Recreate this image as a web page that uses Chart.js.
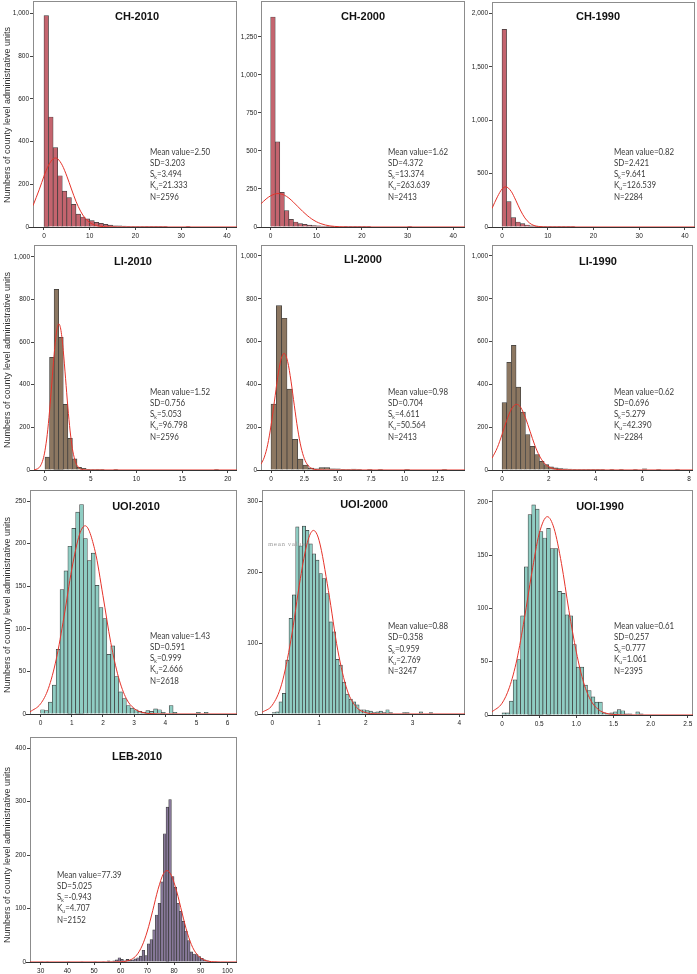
<!DOCTYPE html>
<html>
<head>
<meta charset="utf-8">
<script src="https://cdn.jsdelivr.net/npm/chart.js@4.4.1/dist/chart.umd.min.js"></script>
<style>
  html, body { margin: 0; padding: 0; background: #fff; }
  body { position: relative; width: 697px; height: 974px; overflow: hidden; font-family: "Liberation Sans", Arial, sans-serif; }
  canvas { position: absolute; }
  .title { position: absolute; font-weight: bold; font-size: 11px; color: #111; transform: translate(-50%, -50%); white-space: nowrap; }
  .stats { position: absolute; font-family: Lato, "Open Sans", sans-serif; font-size: 9.2px; line-height: 11.3px; color: #3a3a3a; white-space: nowrap; transform: scaleX(0.86); transform-origin: 0 0; }
  .stats sub { font-size: 6px; vertical-align: -2px; line-height: 0; }
  .ytitle { position: absolute; font-size: 9px; color: #333; white-space: nowrap; transform: translate(-50%, -50%) rotate(-90deg); }
  .ghost { position: absolute; font-family: "DejaVu Serif", serif; font-size: 5.5px; color: #999; letter-spacing: 0.6px; white-space: nowrap; }
</style>
</head>
<body>
<script>
// ---- data ----
const chXTicks = [0, 10, 20, 30, 40];
const chXLabels = ['0', '10', '20', '30', '40'];

// CH-2010 (bins of width 1 from 0)
const ch2010BinWidth = 1;
const ch2010Counts = [990, 515, 372, 240, 168, 138, 106, 60, 47, 38, 30, 22, 17, 12, 9, 6, 5, 4, 3, 2, 2, 2, 1, 1, 1, 1, 1, 0, 0, 0, 0, 1, 0, 0, 0, 0, 0, 0, 0, 0];
const ch2010CurveX = [-2.4, -1, 0, 1, 2, 2.5, 3, 4, 5, 6, 7, 8, 9, 10, 11, 12, 14, 16, 42.2];
const ch2010CurveY = [100, 177, 238, 289, 319, 323, 319, 289, 238, 178, 120, 74, 41, 21, 10, 4, 1, 0, 0];
const ch2010YTicks = [0, 200, 400, 600, 800, 1000];
const ch2010YLabels = ['0', '200', '400', '600', '800', '1,000'];
const ch2010Stats = ['2.50', '3.203', '3.494', '21.333', '2596'];

// CH-2000
const ch2000BinWidth = 1;
const ch2000Counts = [1380, 560, 228, 108, 50, 33, 22, 17, 13, 10, 8, 6, 5, 4, 3, 3, 2, 2, 2, 1, 2, 1, 0, 0, 0, 0, 0, 0, 0, 0, 2, 0, 0, 0, 0, 0, 0, 0, 0, 0];
const ch2000CurveX = [-2.12, -1, 0, 1.62, 3, 4, 5, 6, 7, 8, 9, 10, 11, 12, 13, 14, 15, 17, 42.6];
const ch2000CurveY = [153, 184, 205, 220, 209, 190, 163, 133, 103, 76, 53, 35, 22, 13, 7, 4, 2, 0, 0];
const ch2000YTicks = [0, 250, 500, 750, 1000, 1250];
const ch2000YLabels = ['0', '250', '500', '750', '1,000', '1,250'];
const ch2000Stats = ['1.62', '4.372', '13.374', '263.639', '2413'];

// CH-1990
const ch1990BinWidth = 1;
const ch1990Counts = [1850, 238, 88, 47, 31, 19, 12, 8, 6, 4, 3, 4, 3, 2, 1, 1, 0, 0, 0, 0];
const ch1990CurveX = [-2.2, -1, 0, 0.82, 2, 3, 4, 5, 6, 7, 8, 9, 10, 42.2];
const ch1990CurveY = [173, 283, 355, 376, 334, 251, 159, 85, 38, 14, 4.6, 1, 0, 0];
const ch1990YTicks = [0, 500, 1000, 1500, 2000];
const ch1990YLabels = ['0', '500', '1,000', '1,500', '2,000'];
const ch1990Stats = ['0.82', '2.421', '9.641', '126.539', '2284'];

const liYTicks = [0, 200, 400, 600, 800, 1000];
const liYLabels = ['0', '200', '400', '600', '800', '1,000'];

// LI-2010 (bins of width 0.5)
const li2010BinWidth = 0.5;
const li2010Counts = [60, 528, 847, 622, 308, 148, 52, 12, 8, 3, 2, 1, 1, 0, 0, 1, 0, 0, 0, 0, 0, 0, 0, 0, 0, 0, 0, 0, 0, 0, 0, 0, 0, 0, 0, 0, 0, 1, 0];
const li2010CurveX = [-1.2, -0.8, -0.5, -0.2, 0, 0.25, 0.5, 0.75, 1, 1.25, 1.52, 1.75, 2, 2.25, 2.5, 2.75, 3, 3.25, 3.5, 4, 4.5, 5, 21];
const li2010CurveY = [1, 6, 19, 51, 91, 167, 276, 408, 540, 643, 685, 654, 560, 430, 296, 183, 100, 50, 22, 3, 0.3, 0, 0];
const li2010XTicks = [0, 5, 10, 15, 20];
const li2010XLabels = ['0', '5', '10', '15', '20'];
const li2010Stats = ['1.52', '0.756', '5.053', '96.798', '2596'];

// LI-2000 (bins of width 0.4)
const li2000BinWidth = 0.4;
const li2000Counts = [308, 768, 709, 378, 143, 51, 23, 9, 6, 11, 11, 6, 5, 3, 2, 4, 2, 0, 1, 0, 1, 0, 0, 0, 0, 1, 0, 0, 0, 0, 0, 0, 1];
const li2000CurveX = [-0.75, -0.5, -0.25, 0, 0.25, 0.5, 0.75, 0.98, 1.25, 1.5, 1.75, 2, 2.25, 2.5, 2.75, 3, 3.25, 3.5, 4, 14.54];
const li2000CurveY = [27, 60, 118, 207, 318, 432, 517, 545, 506, 415, 300, 191, 107, 53, 23, 9, 3, 1, 0, 0];
const li2000XTicks = [0, 2.5, 5, 7.5, 10, 12.5];
const li2000XLabels = ['0', '2.5', '5.0', '7.5', '10', '12.5'];
const li2000Stats = ['0.98', '0.704', '4.611', '50.564', '2413'];

// LI-1990 (bins of width 0.2)
const li1990BinWidth = 0.2;
const li1990Counts = [315, 503, 582, 387, 270, 165, 110, 72, 40, 25, 15, 10, 7, 5, 4, 3, 2, 2, 1, 3, 1, 1, 0, 3, 0, 1, 0, 0, 2, 0, 6, 0, 0, 2, 0, 0, 0, 2, 0, 0];
const li1990CurveX = [-0.43, -0.2, 0, 0.2, 0.4, 0.62, 0.8, 1, 1.2, 1.4, 1.6, 1.8, 2, 2.2, 2.4, 2.6, 3, 8.17];
const li1990CurveY = [55, 105, 166, 232, 284, 307, 292, 244, 180, 116, 66, 33, 15, 6, 2, 1, 0, 0];
const li1990XTicks = [0, 2, 4, 6, 8];
const li1990XLabels = ['0', '2', '4', '6', '8'];
const li1990Stats = ['0.62', '0.696', '5.279', '42.390', '2284'];

// UOI-2010 (bins of width 0.125)
const uoi2010BinWidth = 0.125;
const uoi2010Counts = [5, 4, 14, 34, 76, 146, 168, 197, 218, 237, 246, 206, 180, 189, 151, 125, 112, 70, 80, 44, 26, 18, 10, 7, 5, 3, 2, 4, 3, 6, 5, 2, 0, 10, 2, 0, 0, 0, 0, 0, 2, 0, 2, 0];
const uoi2010CurveX = [-0.34, 0, 0.25, 0.5, 0.75, 1, 1.25, 1.43, 1.75, 2, 2.25, 2.5, 2.75, 3, 3.25, 3.5, 4, 6.3];
const uoi2010CurveY = [2.5, 12, 30, 64, 114, 170, 211, 221, 191, 139, 84, 43, 18, 6.5, 2, 0.5, 0, 0];
const uoi2010XTicks = [0, 1, 2, 3, 4, 5, 6];
const uoi2010XLabels = ['0', '1', '2', '3', '4', '5', '6'];
const uoi2010YTicks = [0, 50, 100, 150, 200, 250];
const uoi2010YLabels = ['0', '50', '100', '150', '200', '250'];
const uoi2010Stats = ['1.43', '0.591', '0.999', '2.666', '2618'];

// UOI-2000 (bins of width 1/14)
const uoi2000BinWidth = 0.0714;
const uoi2000Counts = [2, 3, 17, 29, 76, 135, 168, 264, 237, 265, 259, 240, 226, 217, 198, 191, 170, 130, 116, 77, 69, 45, 28, 21, 17, 13, 6, 6, 5, 4, 2, 3, 4, 2, 6, 2, 0, 0, 0, 2, 2, 0, 0, 0, 3, 0, 0, 2, 0];
const uoi2000CurveX = [-0.22, 0, 0.2, 0.4, 0.6, 0.75, 0.88, 1, 1.2, 1.4, 1.6, 1.8, 2, 2.2, 2.5, 4.12];
const uoi2000CurveY = [2.3, 12.5, 42, 105, 191, 242, 259, 245, 174, 90, 34, 9.5, 1.9, 0.3, 0, 0];
const uoi2000XTicks = [0, 1, 2, 3, 4];
const uoi2000XLabels = ['0', '1', '2', '3', '4'];
const uoi2000YTicks = [0, 100, 200, 300];
const uoi2000YLabels = ['0', '100', '200', '300'];
const uoi2000Stats = ['0.88', '0.358', '0.959', '2.769', '3247'];

// UOI-1990 (bins of width 0.05)
const uoi1990BinWidth = 0.05;
const uoi1990Counts = [2, 2, 13, 33, 52, 93, 139, 188, 197, 193, 172, 166, 175, 156, 156, 116, 114, 94, 93, 66, 45, 45, 28, 23, 17, 12, 12, 2, 1, 2, 3, 5, 4, 1, 1, 0, 3, 1];
const uoi1990CurveX = [-0.135, 0, 0.1, 0.2, 0.3, 0.4, 0.5, 0.61, 0.7, 0.8, 0.9, 1, 1.1, 1.2, 1.3, 1.4, 1.5, 1.7, 2.57];
const uoi1990CurveY = [3, 11, 26, 52, 90, 133, 170, 186, 175, 142, 98, 59, 30, 13, 5, 1.6, 0.5, 0, 0];
const uoi1990XTicks = [0, 0.5, 1, 1.5, 2, 2.5];
const uoi1990XLabels = ['0', '0.5', '1.0', '1.5', '2.0', '2.5'];
const uoi1990YTicks = [0, 50, 100, 150, 200];
const uoi1990YLabels = ['0', '50', '100', '150', '200'];
const uoi1990Stats = ['0.61', '0.257', '0.777', '1.061', '2395'];

// LEB-2010 (bins of width 1 from 30)
const leb2010BinStart = 30;
const leb2010BinWidth = 1;
const leb2010Counts = [1, 0, 1, 0, 0, 0, 0, 0, 0, 0, 1, 0, 0, 0, 0, 1, 0, 0, 0, 0, 1, 0, 0, 1, 0, 2, 1, 2, 4, 8, 5, 2, 5, 3, 4, 6, 8, 11, 22, 12, 34, 42, 60, 88, 110, 150, 240, 290, 304, 160, 140, 110, 95, 76, 58, 40, 19, 15, 14, 10, 7, 4, 2, 1, 0, 1];
const leb2010CurveX = [26, 55, 60, 62, 64, 66, 68, 70, 72, 74, 76, 77.39, 79, 81, 83, 85, 87, 89, 91, 93, 95, 100, 103.6];
const leb2010CurveY = [0, 0, 0.4, 1.6, 4.9, 13, 30, 58, 96, 136, 165, 171, 162, 132, 92, 54, 27, 12, 4.4, 1.4, 0.4, 0, 0];
const leb2010XTicks = [30, 40, 50, 60, 70, 80, 90, 100];
const leb2010XLabels = ['30', '40', '50', '60', '70', '80', '90', '100'];
const leb2010YTicks = [0, 100, 200, 300, 400];
const leb2010YLabels = ['0', '100', '200', '300', '400'];
const leb2010Stats = ['77.39', '5.025', '-0.943', '4.707', '2152'];

const yAxisTitle = 'Numbers of county level administrative units';

// ---- styling ----
const CH_FILL = '#c4646e';
const LI_FILL = '#8c7761';
const UOI_FILL = '#8fcdc3';
const LEB_FILL = '#877899';
const CURVE = '#e5332a';

const panels = [
  { title: 'CH-2010', frame: [33, 1, 237, 227], xMin: -2.4, xMax: 42.2, yMax: 1058, xTicks: chXTicks, xLabels: chXLabels, yTicks: ch2010YTicks, yLabels: ch2010YLabels, binStart: 0, binWidth: ch2010BinWidth, counts: ch2010Counts, curveX: ch2010CurveX, curveY: ch2010CurveY, fill: CH_FILL, stats: ch2010Stats, statsAt: [150, 145.5], titleAt: [137, 16] },
  { title: 'CH-2000', frame: [261, 1, 465, 227], xMin: -2.12, xMax: 42.6, yMax: 1485, xTicks: chXTicks, xLabels: chXLabels, yTicks: ch2000YTicks, yLabels: ch2000YLabels, binStart: 0, binWidth: ch2000BinWidth, counts: ch2000Counts, curveX: ch2000CurveX, curveY: ch2000CurveY, fill: CH_FILL, stats: ch2000Stats, statsAt: [387.5, 145.5], titleAt: [363, 16] },
  { title: 'CH-1990', frame: [492, 2, 695, 227], xMin: -2.19, xMax: 42.2, yMax: 2106, xTicks: chXTicks, xLabels: chXLabels, yTicks: ch1990YTicks, yLabels: ch1990YLabels, binStart: 0, binWidth: ch1990BinWidth, counts: ch1990Counts, curveX: ch1990CurveX, curveY: ch1990CurveY, fill: CH_FILL, stats: ch1990Stats, statsAt: [614, 145.5], titleAt: [598, 16] },
  { title: 'LI-2010', frame: [34, 245, 237, 470], xMin: -1.2, xMax: 21.0, yMax: 1055, xTicks: li2010XTicks, xLabels: li2010XLabels, yTicks: liYTicks, yLabels: liYLabels, binStart: 0, binWidth: li2010BinWidth, counts: li2010Counts, curveX: li2010CurveX, curveY: li2010CurveY, fill: LI_FILL, stats: li2010Stats, statsAt: [150, 385.5], titleAt: [133, 261] },
  { title: 'LI-2000', frame: [261, 245, 465, 470], xMin: -0.75, xMax: 14.54, yMax: 1051, xTicks: li2000XTicks, xLabels: li2000XLabels, yTicks: liYTicks, yLabels: liYLabels, binStart: 0, binWidth: li2000BinWidth, counts: li2000Counts, curveX: li2000CurveX, curveY: li2000CurveY, fill: LI_FILL, stats: li2000Stats, statsAt: [387.5, 385.5], titleAt: [363, 259] },
  { title: 'LI-1990', frame: [492, 245, 693, 470], xMin: -0.43, xMax: 8.17, yMax: 1051, xTicks: li1990XTicks, xLabels: li1990XLabels, yTicks: liYTicks, yLabels: liYLabels, binStart: 0, binWidth: li1990BinWidth, counts: li1990Counts, curveX: li1990CurveX, curveY: li1990CurveY, fill: LI_FILL, stats: li1990Stats, statsAt: [614, 385.5], titleAt: [598, 261] },
  { title: 'UOI-2010', frame: [30, 490, 237, 714], xMin: -0.34, xMax: 6.3, yMax: 263, xTicks: uoi2010XTicks, xLabels: uoi2010XLabels, yTicks: uoi2010YTicks, yLabels: uoi2010YLabels, binStart: 0, binWidth: uoi2010BinWidth, counts: uoi2010Counts, curveX: uoi2010CurveX, curveY: uoi2010CurveY, fill: UOI_FILL, stats: uoi2010Stats, statsAt: [150, 629.5], titleAt: [136, 506] },
  { title: 'UOI-2000', frame: [262, 490, 465, 714], xMin: -0.22, xMax: 4.12, yMax: 316, xTicks: uoi2000XTicks, xLabels: uoi2000XLabels, yTicks: uoi2000YTicks, yLabels: uoi2000YLabels, binStart: 0, binWidth: uoi2000BinWidth, counts: uoi2000Counts, curveX: uoi2000CurveX, curveY: uoi2000CurveY, fill: UOI_FILL, stats: uoi2000Stats, statsAt: [387.5, 620], titleAt: [364, 504] },
  { title: 'UOI-1990', frame: [492, 490, 693, 715], xMin: -0.135, xMax: 2.57, yMax: 211, xTicks: uoi1990XTicks, xLabels: uoi1990XLabels, yTicks: uoi1990YTicks, yLabels: uoi1990YLabels, binStart: 0, binWidth: uoi1990BinWidth, counts: uoi1990Counts, curveX: uoi1990CurveX, curveY: uoi1990CurveY, fill: UOI_FILL, stats: uoi1990Stats, statsAt: [614, 619.5], titleAt: [600, 506] },
  { title: 'LEB-2010', frame: [30, 737, 237, 962], xMin: 26, xMax: 103.6, yMax: 421, xTicks: leb2010XTicks, xLabels: leb2010XLabels, yTicks: leb2010YTicks, yLabels: leb2010YLabels, binStart: leb2010BinStart, binWidth: leb2010BinWidth, counts: leb2010Counts, curveX: leb2010CurveX, curveY: leb2010CurveY, fill: LEB_FILL, stats: leb2010Stats, statsAt: [56.5, 868.5], titleAt: [137, 756] }
];

const yTitleCenters = [114.5, 359.5, 604.5, 854.5];

const addDiv = (cls, html, left, top) => {
  const el = document.createElement('div');
  el.className = cls;
  el.innerHTML = html;
  el.style.left = left + 'px';
  el.style.top = top + 'px';
  document.body.appendChild(el);
  return el;
};

// frame + axis line under the bars
const framePlugin = {
  id: 'frame',
  beforeDatasetsDraw(chart) {
    const { ctx, chartArea: a } = chart;
    ctx.save();
    ctx.strokeStyle = '#8c8c8c';
    ctx.lineWidth = 1;
    ctx.strokeRect(a.left + 0.5, a.top + 0.5, a.right - a.left - 1, a.bottom - a.top);
    ctx.strokeStyle = '#333';
    ctx.beginPath();
    ctx.moveTo(a.left - 4, a.bottom + 0.5);
    ctx.lineTo(a.right, a.bottom + 0.5);
    ctx.stroke();
    ctx.restore();
  }
};

const padL = 32, padR = 8, padT = 4, padB = 14;
const tickFont = { family: '"Liberation Sans", Arial, sans-serif', size: 6.5 };

panels.forEach((p) => {
  const [fx0, fy0, fx1, fy1] = p.frame;
  const canvas = document.createElement('canvas');
  canvas.width = fx1 - fx0 + padL + padR;
  canvas.height = fy1 - fy0 + padT + padB;
  canvas.style.left = (fx0 - padL) + 'px';
  canvas.style.top = (fy0 - padT) + 'px';
  document.body.appendChild(canvas);

  new Chart(canvas, {
    type: 'bar',
    data: {
      datasets: [
        {
          type: 'line',
          data: p.curveX.map((x, i) => ({ x, y: p.curveY[i] })),
          borderColor: CURVE,
          borderWidth: 1,
          pointRadius: 0,
          cubicInterpolationMode: 'monotone',
          order: 0
        },
        {
          type: 'bar',
          data: p.counts.map((c, i) => ({ x: p.binStart + (i + 0.5) * p.binWidth, y: c })),
          backgroundColor: p.fill,
          borderColor: '#3b3b3b',
          borderWidth: 0.7,
          barPercentage: 1,
          categoryPercentage: 1,
          order: 1
        }
      ]
    },
    options: {
      responsive: false,
      animation: false,
      devicePixelRatio: 1,
      layout: { padding: { left: 0, right: padR, top: padT, bottom: 0 } },
      plugins: { legend: { display: false }, tooltip: { enabled: false } },
      scales: {
        x: {
          type: 'linear',
          min: p.xMin,
          max: p.xMax,
          offset: false,
          grid: { offset: false, drawOnChartArea: false, drawTicks: true, tickLength: 3, color: '#444' },
          border: { display: false },
          ticks: { font: tickFont, color: '#222', padding: 2, maxRotation: 0, autoSkip: false, callback: (v, i) => p.xLabels[i] },
          afterBuildTicks: (s) => { s.ticks = p.xTicks.map((v) => ({ value: v })); },
          afterFit: (s) => { s.height = padB; s.paddingLeft = 0; s.paddingRight = 0; }
        },
        y: {
          type: 'linear',
          min: 0,
          max: p.yMax,
          grid: { drawOnChartArea: false, drawTicks: true, tickLength: 3, color: '#444' },
          border: { display: false },
          ticks: { font: tickFont, color: '#222', padding: 1, autoSkip: false, callback: (v, i) => p.yLabels[i] },
          afterBuildTicks: (s) => { s.ticks = p.yTicks.map((v) => ({ value: v })); },
          afterFit: (s) => { s.width = padL; s.paddingTop = 0; s.paddingBottom = 0; }
        }
      }
    },
    plugins: [framePlugin]
  });

  addDiv('title', p.title, p.titleAt[0], p.titleAt[1]);
  const s = p.stats;
  addDiv('stats', `Mean value=${s[0]}<br>SD=${s[1]}<br>S<sub>k</sub>=${s[2]}<br>K<sub>u</sub>=${s[3]}<br>N=${s[4]}`, p.statsAt[0], p.statsAt[1]);
});

yTitleCenters.forEach((cy) => addDiv('ytitle', yAxisTitle, 7, cy));
addDiv('ghost', 'mean value', 268, 541);
</script>
</body>
</html>
